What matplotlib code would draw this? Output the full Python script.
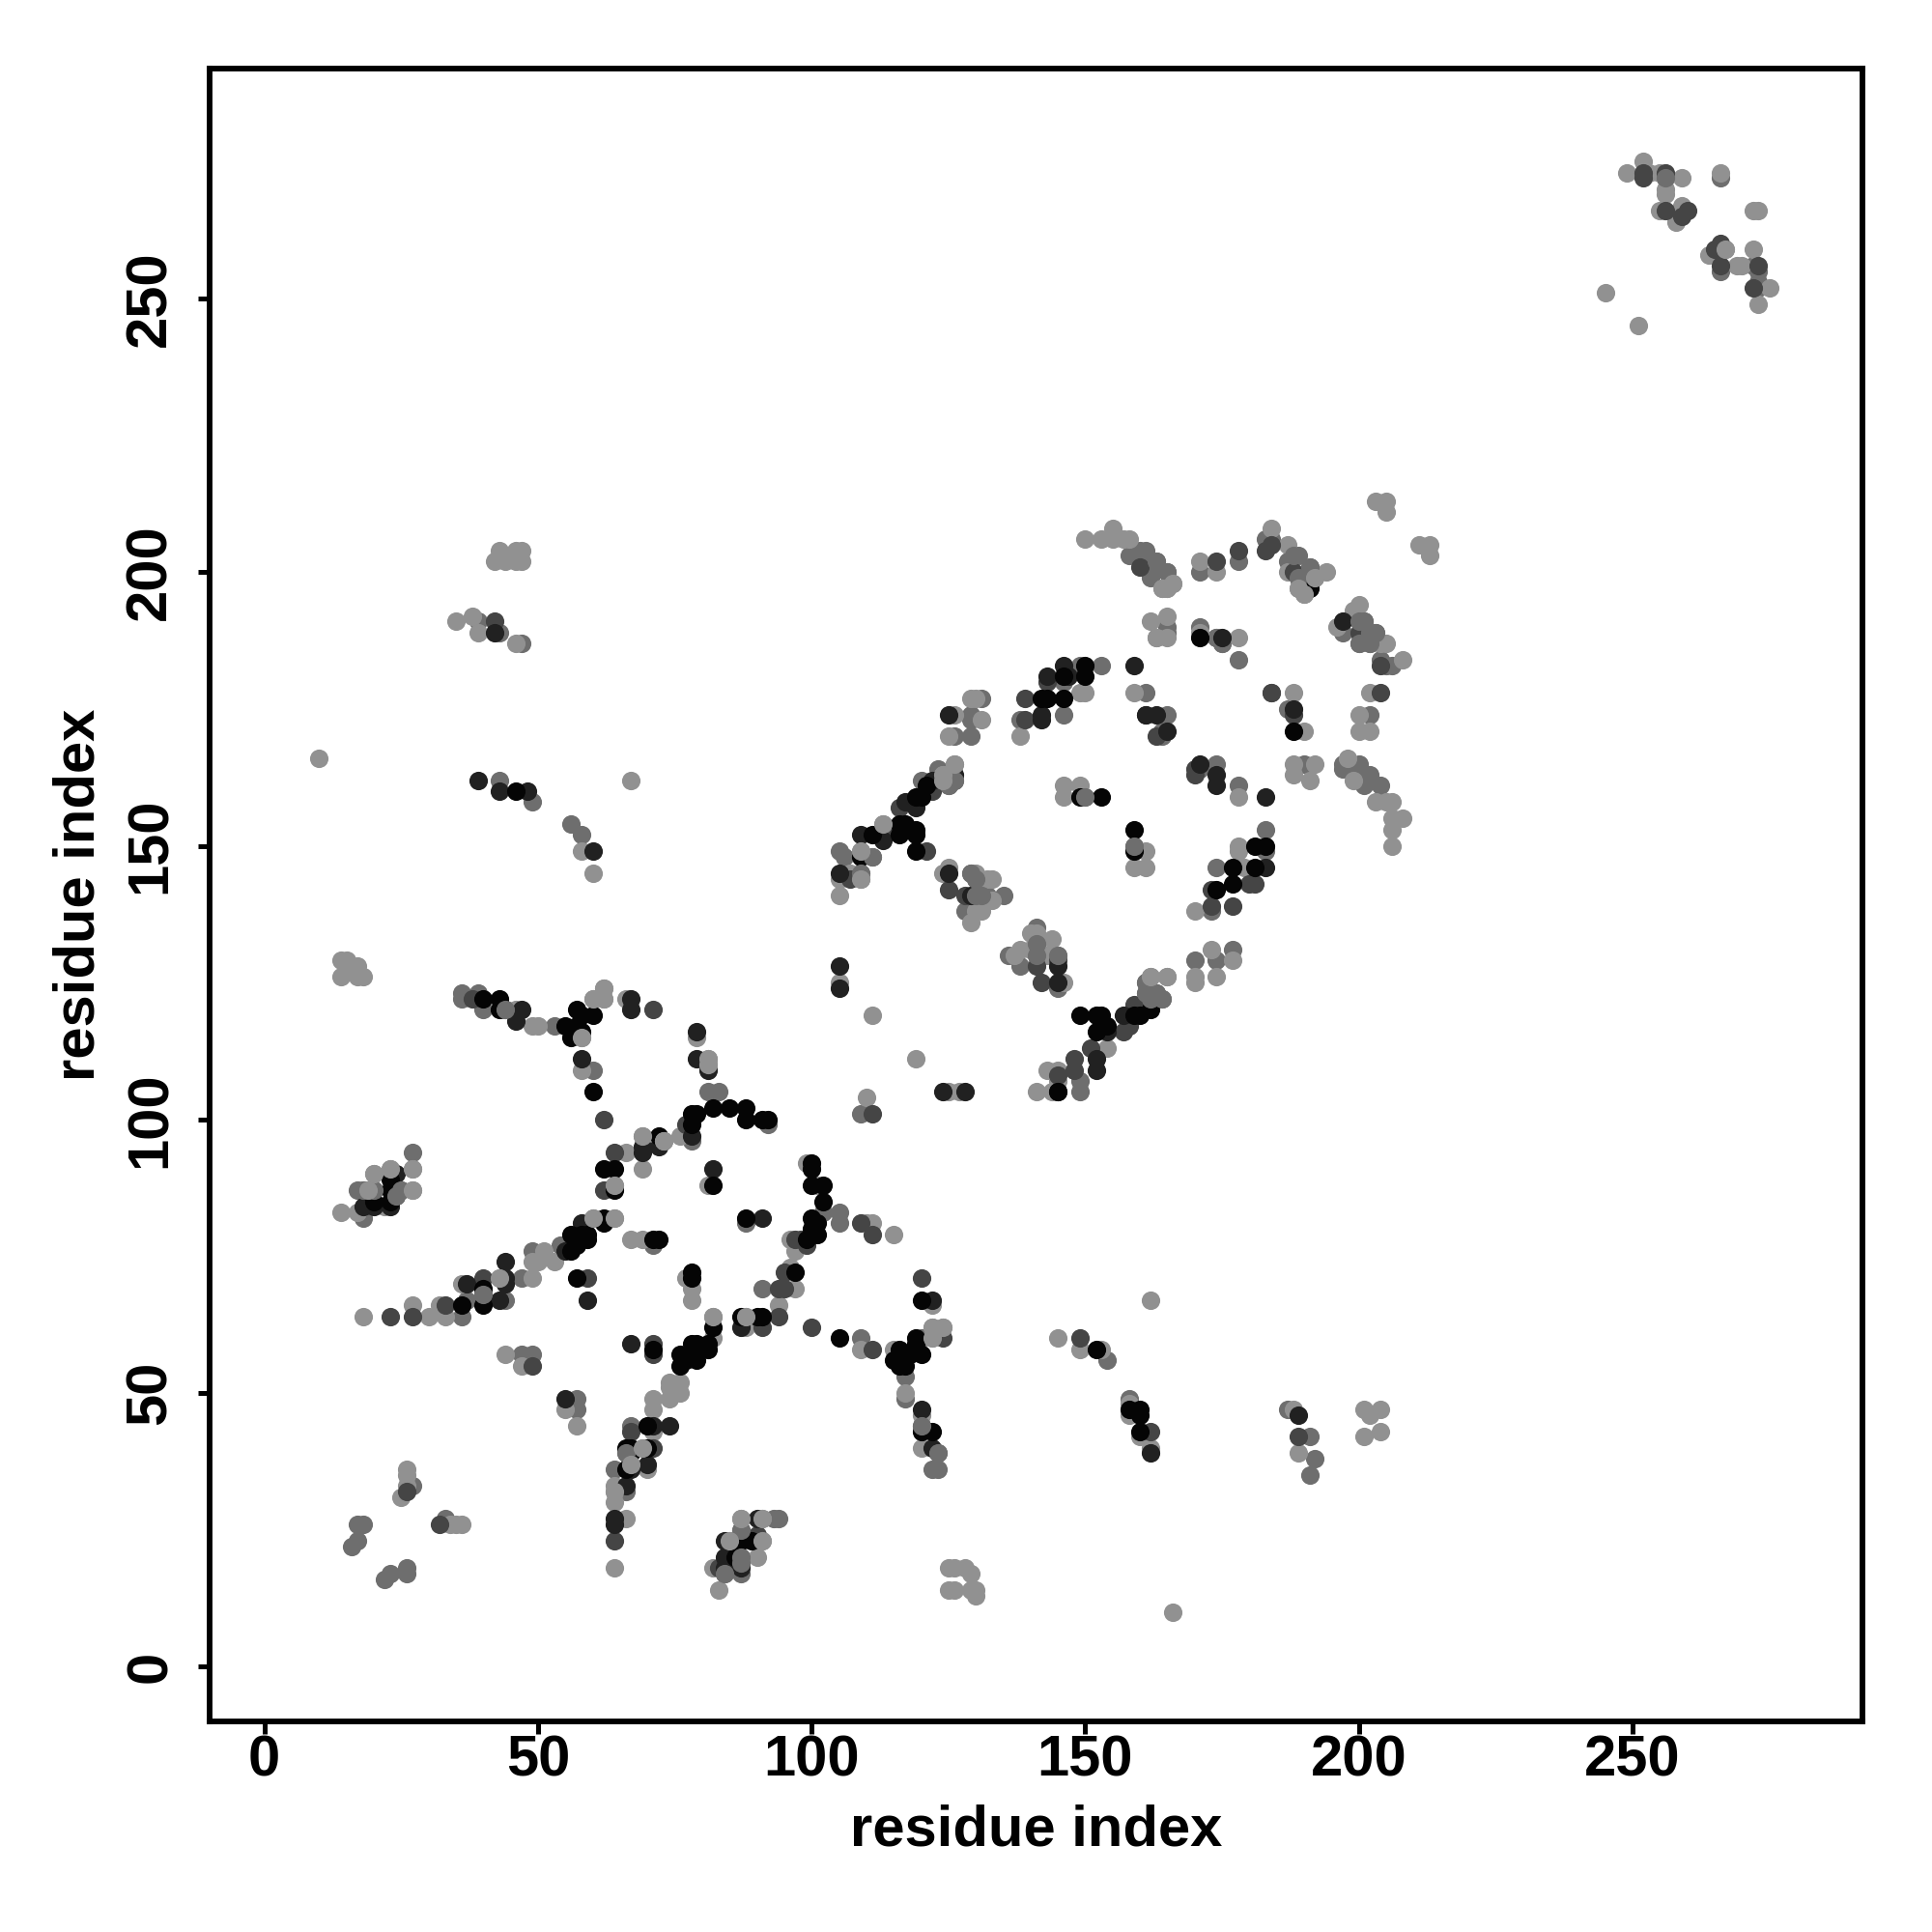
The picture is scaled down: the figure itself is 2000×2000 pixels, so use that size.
import matplotlib
matplotlib.use("Agg")
import matplotlib.pyplot as plt

plt.rcParams['font.family'] = ['Liberation Sans', 'DejaVu Sans']

# contact pairs (residue x, residue y) by grey level
light = [(14,129),(15,129),(14,126),(15,127),(17,128),(18,126),(17,126),(46,120),(49,117),(50,117),(58,115),(60,122),(62,124),(62,122),
    (66,122),(58,109),(79,115),(81,111),(81,110),(76,97),(73,96),(69,97),(66,94),(69,91),(64,88),(81,88),(64,82),(60,82),(53,74),(51,76),
    (49,74),(50,74),(67,78),(69,78),(77,71),(78,69),(78,67),(43,71),(36,70),(49,71),(33,64),(32,66),(27,66),(30,64),(18,64),(82,64),(82,60),
    (88,64),(27,91),(23,91),(20,90),(27,87),(22,84),(19,87),(17,83),(14,83),(119,111),(110,104),(125,105),(127,105),(141,105),(144,105),
    (145,107),(145,109),(143,109),(99,92),(101,88),(96,78),(97,76),(110,81),(111,81),(115,79),(96,73),(97,69),(94,66),(88,62),(109,58),
    (115,58),(122,66),(122,62),(124,62),(122,60),(117,50),(145,60),(149,58),(153,58),(162,67),(158,47),(120,46),(120,40),(26,36),(26,35),
    (26,33),(25,31),(34,26),(35,26),(36,26),(55,47),(57,44),(47,55),(44,57),(71,49),(71,47),(71,43),(69,40),(67,37),(70,36),(64,33),(64,32),
    (64,30),(66,27),(64,18),(74,52),(74,51),(76,52),(76,50),(74,49),(87,27),(91,27),(85,23),(91,23),(90,20),(82,18),(83,14),(125,18),(126,18),
    (128,18),(129,17),(125,14),(126,14),(129,14),(130,14),(130,13),(166,10),(162,40),(160,42),(158,48),(158,46),(105,125),(111,119),(154,113),
    (165,126),(162,126),(170,126),(170,125),(173,131),(174,126),(177,129),(141,134),(140,134),(144,133),(138,131),(137,130),(140,131),(143,130),
    (146,125),(125,146),(124,145),(130,145),(132,144),(133,144),(133,140),(130,138),(131,138),(129,136),(105,144),(105,141),(107,145),(109,144),
    (109,149),(113,154),(126,165),(124,163),(124,162),(126,174),(131,173),(129,177),(130,177),(125,170),(138,170),(149,178),(150,178),(159,178),
    (171,189),(163,188),(165,188),(178,188),(146,161),(146,159),(149,161),(161,149),(159,146),(161,146),(178,159),(178,150),(178,149),(179,146),
    (170,138),(188,178),(190,171),(188,165),(188,163),(150,206),(153,206),(155,208),(155,206),(157,206),(158,206),(164,197),(166,198),(165,197),
    (171,202),(174,200),(184,208),(187,205),(187,200),(189,197),(190,196),(192,199),(194,200),(203,213),(205,213),(205,211),(211,205),(213,205),
    (213,203),(162,191),(165,192),(163,188),(200,194),(199,193),(196,190),(205,187),(204,187),(208,184),(202,178),(200,174),(200,171),(202,171),
    (192,165),(191,162),(198,166),(199,162),(203,158),(205,158),(206,158),(206,155),(208,155),(206,153),(206,150),(10,166),(67,162),(58,149),
    (60,145),(35,191),(38,192),(39,189),(46,187),(42,202),(43,204),(46,204),(46,202),(47,204),(47,202),(44,202),(252,275),(249,273),(253,273),
    (255,273),(259,272),(256,270),(256,269),(255,266),(259,267),(258,264),(266,273),(272,266),(273,266),(267,259),(264,258),(269,256),(270,256),
    (272,259),(275,252),(273,249),(245,251),(251,245),(188,47),(189,39),(201,47),(204,47),(201,42),(204,43),(202,46)]

mid = [(36,123),(36,122),(39,123),(40,120),(44,120),(53,117),(60,109),(83,105),(81,105),(92,99),(78,96),(27,94),(71,77),(88,81),(54,77),(47,71),
    (49,76),(40,68),(44,67),(37,67),(36,64),(25,87),(24,86),(20,87),(18,87),(17,87),(18,82),(19,84),(109,101),(149,105),(149,107),(102,83),
    (105,83),(105,81),(91,69),(109,60),(120,60),(117,53),(117,49),(154,56),(158,49),(120,44),(27,33),(33,27),(17,26),(18,26),(17,23),(16,22),
    (23,17),(22,16),(26,18),(26,17),(57,49),(57,47),(47,57),(49,57),(67,44),(66,39),(64,36),(66,32),(87,25),(87,19),(87,20),(84,17),(87,17),
    (93,27),(94,27),(122,36),(123,36),(123,39),(162,122),(164,122),(161,123),(163,123),(161,125),(170,129),(174,129),(177,131),(145,130),
    (141,135),(136,130),(138,128),(141,130),(141,132),(145,124),(129,145),(130,144),(130,141),(131,141),(135,141),(132,141),(128,138),(105,149),
    (106,148),(109,145),(111,148),(120,162),(123,164),(125,161),(126,162),(129,174),(129,173),(131,177),(126,170),(129,170),(138,173),(146,174),
    (146,180),(149,183),(153,183),(161,178),(165,174),(164,171),(164,170),(165,189),(174,188),(175,187),(178,184),(150,159),(159,150),(171,164),
    (174,165),(178,161),(183,153),(183,149),(174,146),(173,138),(184,178),(187,175),(190,165),(158,203),(160,204),(161,204),(161,202),(163,202),
    (162,199),(163,201),(165,200),(171,200),(178,202),(183,206),(184,206),(187,202),(188,203),(189,203),(189,199),(191,201),(191,199),(165,190),
    (171,190),(174,188),(175,187),(197,189),(201,191),(200,191),(200,187),(203,189),(205,183),(206,183),(204,184),(202,174),(197,165),(197,164),
    (200,165),(199,164),(202,163),(201,161),(204,161),(39,191),(43,162),(49,158),(56,154),(58,152),(43,189),(47,187),(256,272),(266,272),(266,255),
    (272,256),(273,255),(273,253),(273,252),(187,47),(191,42),(192,38),(191,35),(202,189),(202,187)]

dark = [(38,122),(71,120),(62,100),(77,99),(64,94),(62,87),(59,71),(40,71),(71,59),(71,57),(49,55),(27,64),(23,64),(33,66),(91,62),(94,64),(94,69),
    (95,69),(97,78),(98,78),(99,77),(95,72),(109,81),(111,79),(111,101),(100,62),(111,58),(120,71),(124,60),(162,43),(149,60),(32,26),(67,43),
    (71,40),(64,23),(90,24),(83,18),(148,109),(148,111),(145,108),(151,113),(157,116),(158,117),(142,125),(145,129),(141,128),(125,142),(128,141),
    (107,144),(115,153),(116,157),(122,160),(121,149),(139,173),(139,177),(143,180),(163,170),(161,174),(170,164),(170,163),(173,142),(181,143),
    (180,143),(173,139),(177,139),(188,174),(159,121),(160,201),(174,202),(178,204),(183,204),(184,205),(188,200),(200,189),(204,183),
    (204,178),(42,191),(252,273),(252,272),(256,273),(256,266),(259,265),(266,256),(273,256),(272,252),(189,42),(26,32),(161,121),(184,178),
    (260,266),(266,260),(265,259)]

very_dark = [(46,118),(47,120),(67,122),(67,120),(58,111),(79,116),(79,111),(81,109),(78,97),(69,95),(69,94),(72,95),(82,91),(91,82),(58,81),(55,76),
    (44,74),(44,71),(44,70),(37,70),(43,67),(59,67),(67,59),(24,90),(23,84),(20,84),(18,84),(128,105),(124,105),(122,67),(87,62),(120,47),(122,40),
    (152,111),(152,109),(55,49),(66,33),(70,37),(67,36),(64,27),(64,26),(71,44),(74,44),(84,23),(84,20),(84,18),(87,18),(90,27),(105,128),(105,124),
    (145,105),(145,128),(145,125),(125,145),(129,141),(109,152),(113,151),(117,158),(119,157),(122,162),(126,163),(125,174),(142,174),(142,173),
    (143,181),(146,183),(147,181),(159,183),(163,174),(161,174),(165,171),(171,165),(174,163),(174,161),(175,188),(183,159),(183,146),(105,145),
    (157,119),(154,116),(188,175),(197,191),(39,162),(43,160),(48,160),(42,189),(60,149),(189,46),(162,39)]

black = [(40,122),(43,122),(43,120),(55,117),(56,115),(57,120),(58,116),(60,119),(57,117),(58,119),(60,105),(78,101),(82,102),(79,101),(85,102),(88,102),
    (88,100),(91,100),(92,100),(78,99),(72,97),(62,91),(64,91),(64,87),(82,88),(88,82),(62,82),(62,81),(58,79),(59,79),(59,78),(56,79),(57,77),(56,76),
    (71,78),(72,78),(78,72),(78,71),(57,71),(40,69),(36,66),(40,66),(82,62),(87,64),(90,64),(91,64),(71,58),(78,59),(79,59),(81,59),(76,57),(76,55),
    (77,56),(79,56),(81,58),(23,89),(23,87),(23,85),(20,85),(100,92),(100,91),(100,88),(102,88),(102,85),(100,82),(101,81),(101,79),(100,80),(99,78),
    (97,72),(105,60),(120,67),(119,60),(119,59),(116,58),(118,57),(120,57),(115,56),(117,55),(116,55),(120,43),(122,43),(158,47),(160,47),(160,46),
    (160,43),(152,58),(70,44),(66,40),(67,40),(67,39),(70,40),(66,36),(87,23),(89,23),(86,20),(152,116),(154,117),(152,119),(153,119),(149,119),(159,119),
    (160,119),(162,120),(109,148),(111,152),(116,154),(117,154),(116,152),(119,153),(119,152),(119,149),(119,159),(120,159),(121,161),(142,177),(143,177),
    (146,177),(146,181),(150,183),(150,181),(149,159),(153,159),(159,153),(159,149),(171,188),(181,150),(183,150),(177,146),(181,146),(177,143),(174,142),
    (188,171),(191,197),(46,160),(145,105)]

# greys that sit on top of the dark marks
top_mid = [(24,86),(20,87),(18,87),(25,87),(145,130),(120,44),(87,20),(87,19),(87,25),(84,17),(123,39),(150,159),(159,150),(44,120),(66,39),
    (40,68),(161,123),(163,123),(164,122),(161,125),(162,122),(130,141),(131,141),(130,144),(129,145),(141,130),(141,132),(201,191),(200,191),
    (203,189),(202,187),(202,189),(200,187),(189,199),(188,203),(256,272),(163,202),(165,200),(191,201),(109,145),(111,148),(125,161),(126,162)]
top_light = [(82,64),(88,64),(73,96),(69,97),(64,88),(64,82),(60,82),(27,91),(27,87),(20,90),(19,87),(23,91),(81,111),(81,110),(122,62),(124,62),(122,60),
    (189,197),(190,196),(192,199),(164,197),(165,197),(166,198),(85,23),(91,23),(91,27),(87,27),(64,32),(67,37),(69,40),(162,126),(165,126),(126,165),
    (124,163),(124,162),(113,154),(109,149),(109,144),(267,259),(60,122),(62,122),(62,124),(58,115),(73,96),(43,71)]

grey_levels = [0.43, 0.57, 0.27, 0.13, 0.02, 0.43, 0.57]
groups = [mid, light, dark, very_dark, black, top_mid, top_light]

fig = plt.figure(figsize=(20, 20), dpi=100)
ax = fig.add_axes([217/2000, 1 - 1782/2000, (1928 - 217)/2000, (1782 - 71)/2000])

for pts, g in zip(groups, grey_levels):
    xs = [p[0] for p in pts]
    ys = [p[1] for p in pts]
    ax.scatter(xs, ys, s=190, color=(g, g, g), linewidths=0, zorder=2)

ax.set_xlim(-10, 292)
ax.set_ylim(-10, 292)
ax.set_xticks([0, 50, 100, 150, 200, 250])
ax.set_yticks([0, 50, 100, 150, 200, 250])
ax.tick_params(axis='x', length=9, width=3.6, labelsize=43, pad=1)
ax.tick_params(axis='y', length=9, width=3.6, labelsize=43, pad=15)
for t in ax.get_xticklabels():
    t.set_fontweight('bold')
for t in ax.get_yticklabels():
    t.set_fontweight('bold')
    t.set_rotation(90)
    t.set_va('center')
for s in ax.spines.values():
    s.set_linewidth(4.2)

ax.set_xlabel('residue index', fontsize=43, fontweight='bold')
ax.set_ylabel('residue index', fontsize=43, fontweight='bold')
ax.xaxis.set_label_coords(0.5, -0.05)
ax.yaxis.set_label_coords(-0.063, 0.5)

fig.savefig('out.png', dpi=100, facecolor='white')
